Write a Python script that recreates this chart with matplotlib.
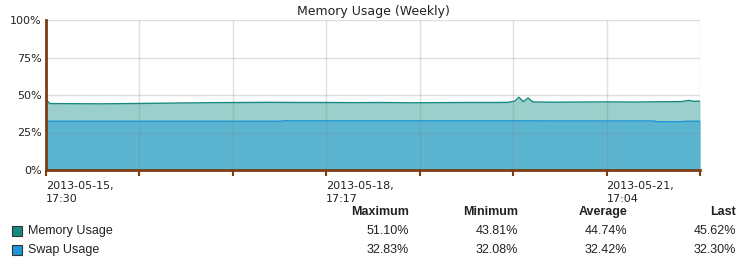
import matplotlib
matplotlib.use("Agg")
import matplotlib.pyplot as plt
import matplotlib.ticker as ticker
from matplotlib.patches import Rectangle

# x is measured in tick intervals (one interval ~ one day) from 2013-05-15 17:30
mem_t = [0.0, 0.04, 0.3, 0.6, 0.9, 1.2, 1.5, 1.8, 2.1, 2.4, 2.7, 3.0, 3.3, 3.6,
         3.9, 4.2, 4.5, 4.8, 4.95, 5.02, 5.06, 5.11, 5.16, 5.21, 5.4, 5.7, 6.0,
         6.3, 6.6, 6.8, 6.88, 6.93, 7.0]
mem_pct = [47.0, 44.3, 44.2, 44.1, 44.3, 44.5, 44.7, 44.9, 45.0, 45.1, 45.0,
           45.0, 44.9, 45.0, 44.8, 44.9, 45.0, 45.0, 45.1, 46.0, 48.5, 45.6,
           48.0, 45.4, 45.2, 45.3, 45.4, 45.3, 45.5, 45.6, 46.4, 45.8, 45.9]

swap_t = [0.0, 2.5, 2.55, 5.0, 5.5, 6.5, 6.55, 6.8, 6.85, 7.0]
swap_pct = [32.5, 32.5, 32.8, 32.8, 32.7, 32.7, 32.2, 32.2, 32.5, 32.5]

x_tick_pos = [0, 1, 2, 3, 4, 5, 6, 7]
x_tick_labels = ["2013-05-15,\n17:30", "", "", "2013-05-18,\n17:17", "", "",
                 "2013-05-21,\n17:04", ""]

stat_headers = ["Maximum", "Minimum", "Average", "Last"]
series_names = ["Memory Usage", "Swap Usage"]
series_stats = [["51.10%", "43.81%", "44.74%", "45.62%"],
                ["32.83%", "32.08%", "32.42%", "32.30%"]]

MEM_FILL = "#9bcfcb"
MEM_LINE = "#168a7e"
SWAP_FILL = "#5bb4d0"
SWAP_LINE = "#1e96d8"
BROWN = "#7a3e12"

W, H = 740, 258
fig = plt.figure(figsize=(W / 100, H / 100), dpi=100)
ax = fig.add_axes([46 / W, 1 - 170 / H, (700 - 46) / W, 150 / H])

ax.fill_between(mem_t, 0, mem_pct, color=MEM_FILL, lw=0, zorder=1)
ax.plot(mem_t, mem_pct, color=MEM_LINE, lw=1, zorder=3)
ax.fill_between(swap_t, 0, swap_pct, color=SWAP_FILL, lw=0, zorder=2)
ax.plot(swap_t, swap_pct, color=SWAP_LINE, lw=1, zorder=3)

ax.set_xlim(0, 7)
ax.set_ylim(0, 100)
ax.set_xticks(x_tick_pos)
ax.set_xticklabels(x_tick_labels, fontsize=8, ha="left", color="#222222",
                   linespacing=1.35)
ax.set_yticks([0, 25, 50, 75, 100])
ax.yaxis.set_major_formatter(ticker.FuncFormatter(lambda v, p: f"{v:.0f}%"))
ax.tick_params(axis="y", length=0, pad=3, labelsize=8, labelcolor="#222222")
ax.tick_params(axis="x", length=4, width=1.5, color=BROWN, pad=4)

# grid drawn over the fills, faint grey so it darkens them slightly
ax.grid(True, color="#808080", lw=1, alpha=0.25)
ax.set_axisbelow(False)
for ln in ax.get_xgridlines() + ax.get_ygridlines():
    ln.set_zorder(4)

for s in ["top", "right"]:
    ax.spines[s].set_visible(False)
for s in ["left", "bottom"]:
    ax.spines[s].set_color(BROWN)
    ax.spines[s].set_linewidth(2)
    ax.spines[s].set_zorder(5)

fig.text(373 / W, 1 - 12 / H, "Memory Usage (Weekly)", ha="center",
         va="center", fontsize=9, color="#222222")

# stats table under the chart
col_right = [409, 518, 627, 736]
for x, h in zip(col_right, stat_headers):
    fig.text(x / W, 1 - 212 / H, h, ha="right", va="center", fontsize=9,
             fontweight="bold", family="Liberation Sans", color="#222222")

box_colors = [MEM_LINE, SWAP_LINE]
row_y = [231, 250]
for name, stats, col, y in zip(series_names, series_stats, box_colors, row_y):
    fig.patches.append(Rectangle((12 / W, 1 - (y + 5) / H), 10 / W, 10 / H,
                                 transform=fig.transFigure, facecolor=col,
                                 edgecolor="#333333", lw=0.8))
    fig.text(28 / W, 1 - y / H, name, ha="left", va="center", fontsize=9,
             family="Liberation Sans", color="#222222")
    for x, v in zip(col_right, stats):
        fig.text(x / W, 1 - y / H, v, ha="right", va="center", fontsize=9,
                 family="Liberation Sans", color="#222222")

fig.savefig("out.png", dpi=100)
